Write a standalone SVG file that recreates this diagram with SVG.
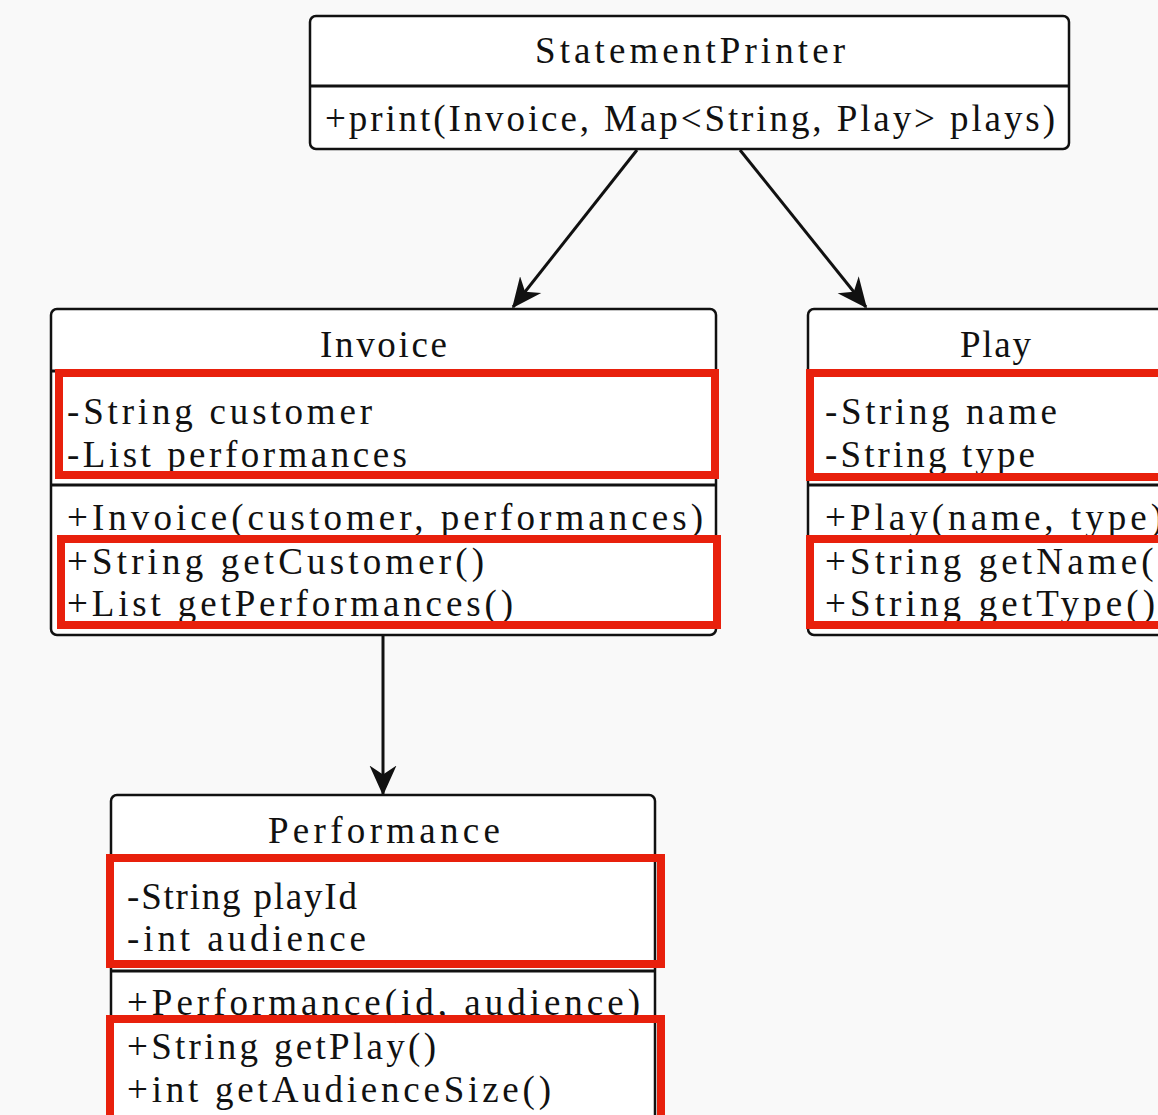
<svg xmlns="http://www.w3.org/2000/svg" width="1158" height="1115" viewBox="0 0 1158 1115">
<style>
.box{fill:#ffffff;stroke:#111;stroke-width:2.5}
.div{stroke:#111;stroke-width:3}
.t{font-family:"Liberation Serif","Times New Roman",serif;font-size:37px;fill:#111}
.hl{fill:none;stroke:#e8200c;stroke-width:8}
.edge{stroke:#111;stroke-width:3;fill:none}
</style>
<defs>
<marker id="arr" viewBox="0 0 20 20" refX="19" refY="10" markerWidth="30" markerHeight="30" markerUnits="userSpaceOnUse" orient="auto">
<path d="M0,1 L20,10 L0,19 L6,10 Z" fill="#111"/>
</marker>
</defs>
<rect width="1158" height="1115" fill="#f9f9f9"/>
<g id="edges">
<line class="edge" x1="637" y1="150" x2="513" y2="307" marker-end="url(#arr)"/>
<line class="edge" x1="740" y1="150" x2="866" y2="307" marker-end="url(#arr)"/>
<line class="edge" x1="383" y1="636" x2="383" y2="794" marker-end="url(#arr)"/>
</g>
<g id="StatementPrinter">
<rect class="box" x="310" y="16" width="759" height="133" rx="6"/>
<line class="div" x1="310" y1="86" x2="1069" y2="86"/>
<text class="t" x="535" y="63" textLength="310" lengthAdjust="spacing">StatementPrinter</text>
<text class="t" x="325" y="131" textLength="730" lengthAdjust="spacing">+print(Invoice, Map&lt;String, Play&gt; plays)</text>
</g>
<g id="Invoice">
<rect class="box" x="51" y="309" width="665" height="326" rx="6"/>
<line class="div" x1="51" y1="371" x2="716" y2="371"/>
<line class="div" x1="51" y1="485" x2="716" y2="485"/>
<text class="t" x="320" y="357" textLength="127" lengthAdjust="spacing">Invoice</text>
<text class="t" x="67" y="424" textLength="305" lengthAdjust="spacing">-String customer</text>
<text class="t" x="67" y="467" textLength="340" lengthAdjust="spacing">-List performances</text>
<text class="t" x="67" y="530" textLength="636" lengthAdjust="spacing">+Invoice(customer, performances)</text>
<text class="t" x="67" y="574" textLength="417" lengthAdjust="spacing">+String getCustomer()</text>
<text class="t" x="67" y="616" textLength="446" lengthAdjust="spacing">+List getPerformances()</text>
<rect class="hl" x="59" y="373" width="656" height="102"/>
<rect class="hl" x="61" y="539" width="656" height="86"/>
</g>
<g id="Play">
<rect class="box" x="808" y="309" width="400" height="326" rx="6"/>
<line class="div" x1="808" y1="371" x2="1208" y2="371"/>
<line class="div" x1="808" y1="485" x2="1208" y2="485"/>
<text class="t" x="960" y="357" textLength="71" lengthAdjust="spacing">Play</text>
<text class="t" x="825" y="424" textLength="232" lengthAdjust="spacing">-String name</text>
<text class="t" x="825" y="467" textLength="210" lengthAdjust="spacing">-String type</text>
<text class="t" x="825" y="530" textLength="338" lengthAdjust="spacing">+Play(name, type)</text>
<text class="t" x="825" y="574" textLength="345" lengthAdjust="spacing">+String getName()</text>
<text class="t" x="825" y="616" textLength="330" lengthAdjust="spacing">+String getType()</text>
<rect class="hl" x="810" y="373" width="400" height="104"/>
<rect class="hl" x="810" y="539" width="400" height="86"/>
</g>
<g id="Performance">
<rect class="box" x="111" y="795" width="544" height="360" rx="6"/>
<line class="div" x1="111" y1="858" x2="655" y2="858"/>
<line class="div" x1="111" y1="971" x2="655" y2="971"/>
<text class="t" x="268" y="843" textLength="232" lengthAdjust="spacing">Performance</text>
<text class="t" x="127" y="909" textLength="230" lengthAdjust="spacing">-String playId</text>
<text class="t" x="127" y="951" textLength="239" lengthAdjust="spacing">-int audience</text>
<text class="t" x="127" y="1015" textLength="513" lengthAdjust="spacing">+Performance(id, audience)</text>
<text class="t" x="127" y="1059" textLength="309" lengthAdjust="spacing">+String getPlay()</text>
<text class="t" x="127" y="1102" textLength="424" lengthAdjust="spacing">+int getAudienceSize()</text>
<rect class="hl" x="110" y="858" width="551" height="106"/>
<rect class="hl" x="110" y="1019" width="551" height="120"/>
</g>
</svg>
